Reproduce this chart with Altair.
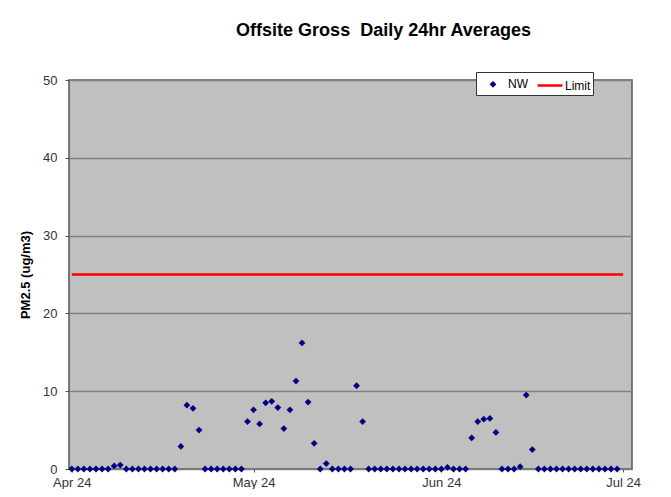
import altair as alt
import pandas as pd

start_date = "2024-04-01"
n_days = 91
nw_values = [
    0, 0, 0, 0, 0, 0, 0, 0.4, 0.5,
    0, 0, 0, 0, 0, 0, 0, 0, 0,
    2.9, 8.2, 7.8, 5.0,
    0, 0, 0, 0, 0, 0, 0,
    6.1, 7.6, 5.8, 8.5, 8.7, 7.9, 5.2, 7.6, 11.3, 16.2, 8.6, 3.3,
    0, 0.7, 0, 0, 0, 0,
    10.7, 6.1,
    0, 0, 0, 0, 0, 0, 0, 0, 0, 0, 0, 0, 0, 0.2, 0, 0, 0,
    4.0, 6.1, 6.4, 6.5, 4.7,
    0, 0, 0, 0.3, 9.5, 2.5,
    0, 0, 0, 0, 0, 0, 0, 0, 0, 0, 0, 0, 0, 0,
]
limit_value = 25
limit_dates = ["2024-04-01T00:00:00", "2024-07-01T00:00:00"]
y_ticks = [0, 10, 20, 30, 40, 50]
series_names = ["NW", "Limit"]
series_colors = ["#000080", "#FF0000"]

dates = [d.strftime("%Y-%m-%dT00:00:00") for d in pd.date_range(start_date, periods=n_days)]
df_nw = pd.DataFrame({"date": dates, "value": nw_values, "series": "NW"})
df_lim = pd.DataFrame({"date": limit_dates, "value": [limit_value] * 2, "series": "Limit"})

FONT = "Liberation Sans"

x_scale = alt.Scale(domain=[alt.DateTime(year=2024, month=3, date=31, hours=13),
                            alt.DateTime(year=2024, month=7, date=2, hours=11)])
x_axis = alt.Axis(title=None, format="%b %y", grid=False,
                  values=[alt.DateTime(year=2024, month=m, date=1) for m in [4, 5, 6, 7]],
                  labelFlush=False, labelBound=False, labelOverlap=False,
                  tickSize=3, tickColor="#555", labelPadding=4, domain=False,
                  labelFont=FONT, labelFontSize=13, labelColor="#333")
y_scale = alt.Scale(domain=[0, 50], nice=False)
y_axis = alt.Axis(title="PM2.5 (ug/m3)", values=y_ticks, grid=True, gridColor="#808080",
                  gridWidth=1.5, domain=False, tickSize=4, tickColor="#555",
                  labelPadding=8, labelFont=FONT, labelFontSize=13, labelColor="#333",
                  titleFont=FONT, titleFontSize=13, titleFontWeight="bold",
                  titleColor="#000", titlePadding=10)

legend = alt.Legend(
    title=None, orient="none", legendX=407, legendY=-8, direction="horizontal",
    fillColor="white", strokeColor="#333", padding=2, symbolSize=289,
    symbolOffset=5, labelOffset=5, columnPadding=4,
    labelFont=FONT, labelFontSize=12, labelColor="#000",
    symbolStrokeWidth=2.5, symbolOpacity=1,
    symbolType={"expr": "datum.value === 'Limit' ? 'M-1.47,0L1.47,0' : 'M0,-0.4L0.4,0L0,0.4L-0.4,0Z'"},
    symbolStrokeColor={"expr": "datum.value === 'Limit' ? '#FF0000' : 'transparent'"},
)
color = alt.Color("series:N", scale=alt.Scale(domain=series_names, range=series_colors),
                  legend=legend)

points = alt.Chart(df_nw).mark_point(shape="diamond", filled=True, size=46, opacity=1).encode(
    x=alt.X("date:T", scale=x_scale, axis=x_axis),
    y=alt.Y("value:Q", scale=y_scale, axis=y_axis),
    color=color,
)
line = alt.Chart(df_lim).mark_line(strokeWidth=2.5, color="#FF0000").encode(
    x=alt.X("date:T", scale=x_scale, axis=x_axis),
    y=alt.Y("value:Q", scale=y_scale, axis=y_axis),
)

chart = alt.layer(line, points).properties(
    width=563, height=389,
    title=alt.TitleParams("Offsite Gross\u00a0\u00a0Daily 24hr Averages", font=FONT, fontSize=18,
                          fontWeight="bold", color="#000", anchor="middle", dx=33,
                          offset=18, baseline="alphabetic", frame="group"),
    autosize=alt.AutoSizeParams(type="none"),
    padding={"left": 61, "top": 72, "right": 28, "bottom": 20},
    background="white",
).configure_view(fill="#C0C0C0", stroke="#555", strokeWidth=1.5)

chart.save("out.html", embed_options={"renderer": "svg", "actions": False})
